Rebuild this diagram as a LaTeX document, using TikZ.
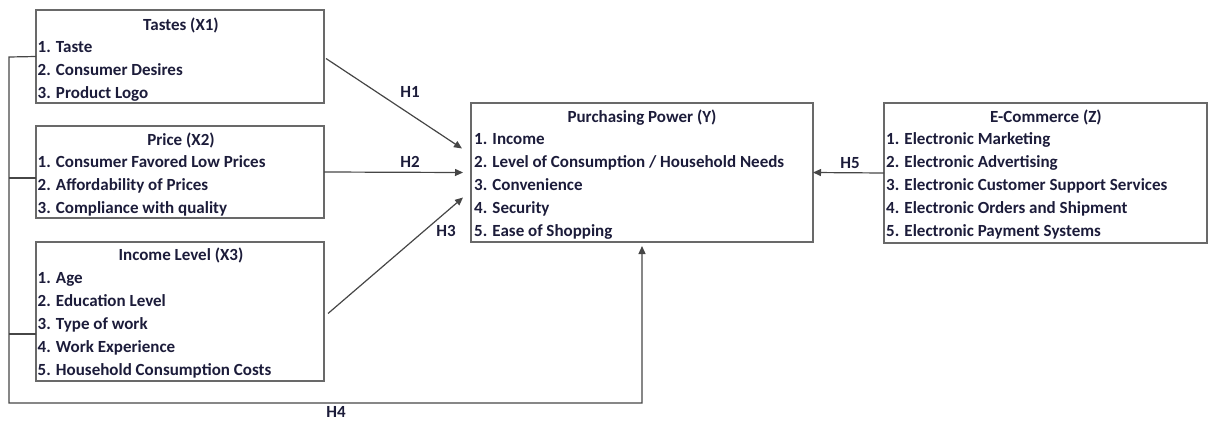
\documentclass[tikz,border=0pt]{standalone}
\usepackage{fontspec}
\setmainfont{Carlito}
\usetikzlibrary{arrows.meta}
\definecolor{txt}{RGB}{28,28,58}
\definecolor{bord}{RGB}{105,105,105}
\definecolor{ln}{RGB}{70,70,70}
\begin{document}
\begin{tikzpicture}[x=1pt,y=-1pt,
  box/.style={draw=bord, line width=1.3pt, inner sep=0pt, outer sep=0pt, anchor=north west},
  item/.style={anchor=mid west, inner sep=0pt, yshift=-3.5pt, font=\fontsize{17}{19}\selectfont\bfseries, text=txt},
  ttl/.style={anchor=mid, inner sep=0pt, yshift=-3.5pt, font=\fontsize{17}{19}\selectfont\bfseries, text=txt},
  lbl/.style={anchor=mid, inner sep=0pt, yshift=-3.5pt, font=\fontsize{17}{19}\selectfont\bfseries, text=txt},
  conn/.style={draw=ln, line width=1.2pt},
  arr/.style={conn, -{Triangle[length=8pt,width=7pt]}}]
\useasboundingbox (0,0) rectangle (1209,423);
% boxes
\node[box, minimum width=288pt, minimum height=93pt] (x1) at (36,10) {};
\node[box, minimum width=288pt, minimum height=92pt] (x2) at (36,126) {};
\node[box, minimum width=288pt, minimum height=139pt] (x3) at (36,242) {};
\node[box, minimum width=342pt, minimum height=139pt] (y) at (471,103) {};
\node[box, minimum width=323pt, minimum height=140pt] (z) at (884,103) {};
% X1 text
\node[ttl] (x1t) at (181,25) {Tastes (X1)};
\node[item] (x1a) at (37.5,47) {1. Taste};
\node[item] (x1b) at (37.5,70) {2. Consumer Desires};
\node[item] (x1c) at (37.5,93) {3. Product Logo};
% X2 text
\node[ttl] (x2t) at (181,140) {Price (X2)};
\node[item] (x2a) at (37.5,162) {1. Consumer Favored Low Prices};
\node[item] (x2b) at (37.5,185) {2. Affordability of Prices};
\node[item] (x2c) at (37.5,208) {3. Compliance with quality};
% X3 text
\node[ttl] (x3t) at (181,255) {Income Level (X3)};
\node[item] (x3a) at (37.5,278) {1. Age};
\node[item] (x3b) at (37.5,301) {2. Education Level};
\node[item] (x3c) at (37.5,324) {3. Type of work};
\node[item] (x3d) at (37.5,347) {4. Work Experience};
\node[item] (x3e) at (37.5,370) {5. Household Consumption Costs};
% Y text
\node[ttl] (yt) at (642,117) {Purchasing Power (Y)};
\node[item] (ya) at (474,139) {1. Income};
\node[item] (yb) at (474,162) {2. Level of Consumption / Household Needs};
\node[item] (yc) at (474,185) {3. Convenience};
\node[item] (yd) at (474,208) {4. Security};
\node[item] (ye) at (474,231) {5. Ease of Shopping};
% Z text
\node[ttl] (zt) at (1046,117) {E-Commerce (Z)};
\node[item] (za) at (886,139) {1. Electronic Marketing};
\node[item] (zb) at (886,162) {2. Electronic Advertising};
\node[item] (zc) at (886,185) {3. Electronic Customer Support Services};
\node[item] (zd) at (886,208) {4. Electronic Orders and Shipment};
\node[item] (ze) at (886,231) {5. Electronic Payment Systems};
% connectors
\draw[arr] ([xshift=2pt,yshift=-2pt]x1.east) -- ([xshift=-9pt,yshift=24pt]y.west);
\draw[arr] (x2.east) -- ([xshift=-8pt]y.west);
\draw[arr] ([xshift=4pt,yshift=-2pt]x3.east) -- ([xshift=-8pt,yshift=-25pt]y.west);
\draw[arr] (z.west) -- (y.east);
\coordinate (lt) at (9,57);
\coordinate (lb) at (9,403);
\coordinate (s2) at ([yshift=-6pt]x2.west);
\coordinate (s3) at ([yshift=-22.5pt]x3.west);
\draw[arr] (x1.west) -- (lt) -- (lb) -| ([yshift=-4pt]y.south);
\draw[conn] (s2) -- (s2 -| lt);
\draw[conn] (s3) -- (s3 -| lt);
% labels
\node[lbl] (h1) at (410,92) {H1};
\node[lbl] (h2) at (410,162) {H2};
\node[lbl] (h3) at (446,231) {H3};
\node[lbl] (h4) at (336,411.5) {H4};
\node[lbl] (h5) at (850,163) {H5};
\end{tikzpicture}
\end{document}
